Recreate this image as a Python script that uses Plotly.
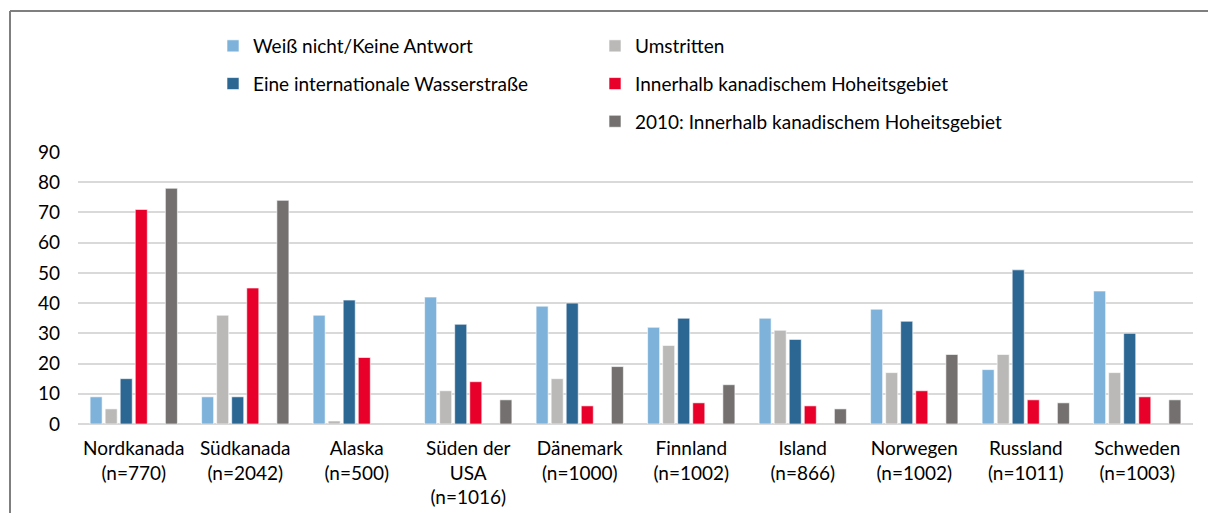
import plotly.graph_objects as go

categories = ["Nordkanada<br>(n=770)", "Südkanada<br>(n=2042)", "Alaska<br>(n=500)",
              "Süden der<br>USA<br>(n=1016)", "Dänemark<br>(n=1000)", "Finnland<br>(n=1002)",
              "Island<br>(n=866)", "Norwegen<br>(n=1002)", "Russland<br>(n=1011)",
              "Schweden<br>(n=1003)"]

weiss_nicht = [9, 9, 36, 42, 39, 32, 35, 38, 18, 44]
umstritten = [5, 36, 1, 11, 15, 26, 31, 17, 23, 17]
wasserstrasse = [15, 9, 41, 33, 40, 35, 28, 34, 51, 30]
innerhalb = [71, 45, 22, 14, 6, 7, 6, 11, 8, 9]
innerhalb_2010 = [78, 74, None, 8, 19, 13, 5, 23, 7, 8]

series_names = ["Weiß nicht/Keine Antwort", "Umstritten", "Eine internationale Wasserstraße",
                "Innerhalb kanadischem Hoheitsgebiet", "2010: Innerhalb kanadischem Hoheitsgebiet"]
series_values = [weiss_nicht, umstritten, wasserstrasse, innerhalb, innerhalb_2010]
colors = ["#7EB2DA", "#BAB9B8", "#2C6693", "#E8002A", "#747070"]
legend_ids = ["legend", "legend2", "legend", "legend2", "legend2"]

FONT = "Lato"
FS = 19
fig = go.Figure()
for i, (name, vals, col, lg) in enumerate(zip(series_names, series_values, colors, legend_ids)):
    if i == 4:
        # empty slot before the 2010 series (as in the original layout)
        fig.add_trace(go.Bar(x=categories, y=[None] * len(categories), showlegend=False,
                             hoverinfo="skip", marker_color="rgba(0,0,0,0)"))
    fig.add_trace(go.Bar(
        x=categories, y=vals, name=name, legend=lg, legendgroup=name,
        marker=dict(color=col, line=dict(color="rgba(255,255,255,0.6)", width=1)),
    ))

L, R, T, B = 78, 15, 152, 89
W, H = 1208, 513
pw, ph = W - L - R, H - T - B

def px(x):
    return (x - L) / pw

def py(y):
    return (H - B - y) / ph

fig.update_layout(
    width=W, height=H,
    margin=dict(l=L, r=R, t=T, b=B, autoexpand=False),
    paper_bgcolor="white", plot_bgcolor="white",
    barmode="group", bargap=0.19, bargroupgap=0.2,
    font=dict(family=FONT, size=FS, color="#000000"),
    yaxis=dict(range=[0, 90], dtick=10, showgrid=True, gridcolor="#D9D9D9", gridwidth=1.5,
               zeroline=True, zerolinecolor="#D9D9D9", zerolinewidth=2,
               ticks="", ticklabelstandoff=17, tickfont=dict(size=FS, family=FONT)),
    xaxis=dict(showgrid=False, ticks="", showline=False, ticklabelstandoff=11,
               tickfont=dict(size=FS, family=FONT)),
    legend=dict(x=px(213), y=py(27), xanchor="left", yanchor="top", orientation="v",
                font=dict(size=FS, family=FONT), tracegroupgap=10, bgcolor="rgba(0,0,0,0)",
                itemwidth=30),
    legend2=dict(x=px(595), y=py(27), xanchor="left", yanchor="top", orientation="v",
                 font=dict(size=FS, family=FONT), tracegroupgap=10, bgcolor="rgba(0,0,0,0)",
                 itemwidth=30),
    showlegend=True,
    shapes=[
        dict(type="line", xref="paper", yref="paper", x0=px(10), x1=px(1215), y0=py(11), y1=py(11),
             line=dict(color="#7F7F7F", width=2)),
        dict(type="line", xref="paper", yref="paper", x0=px(10), x1=px(10), y0=py(11), y1=py(520),
             line=dict(color="#7F7F7F", width=2)),
    ],
)

fig.write_html("out.html", config={"displayModeBar": False},
               post_script="document.body.style.margin='0';document.body.style.overflow='hidden';")
